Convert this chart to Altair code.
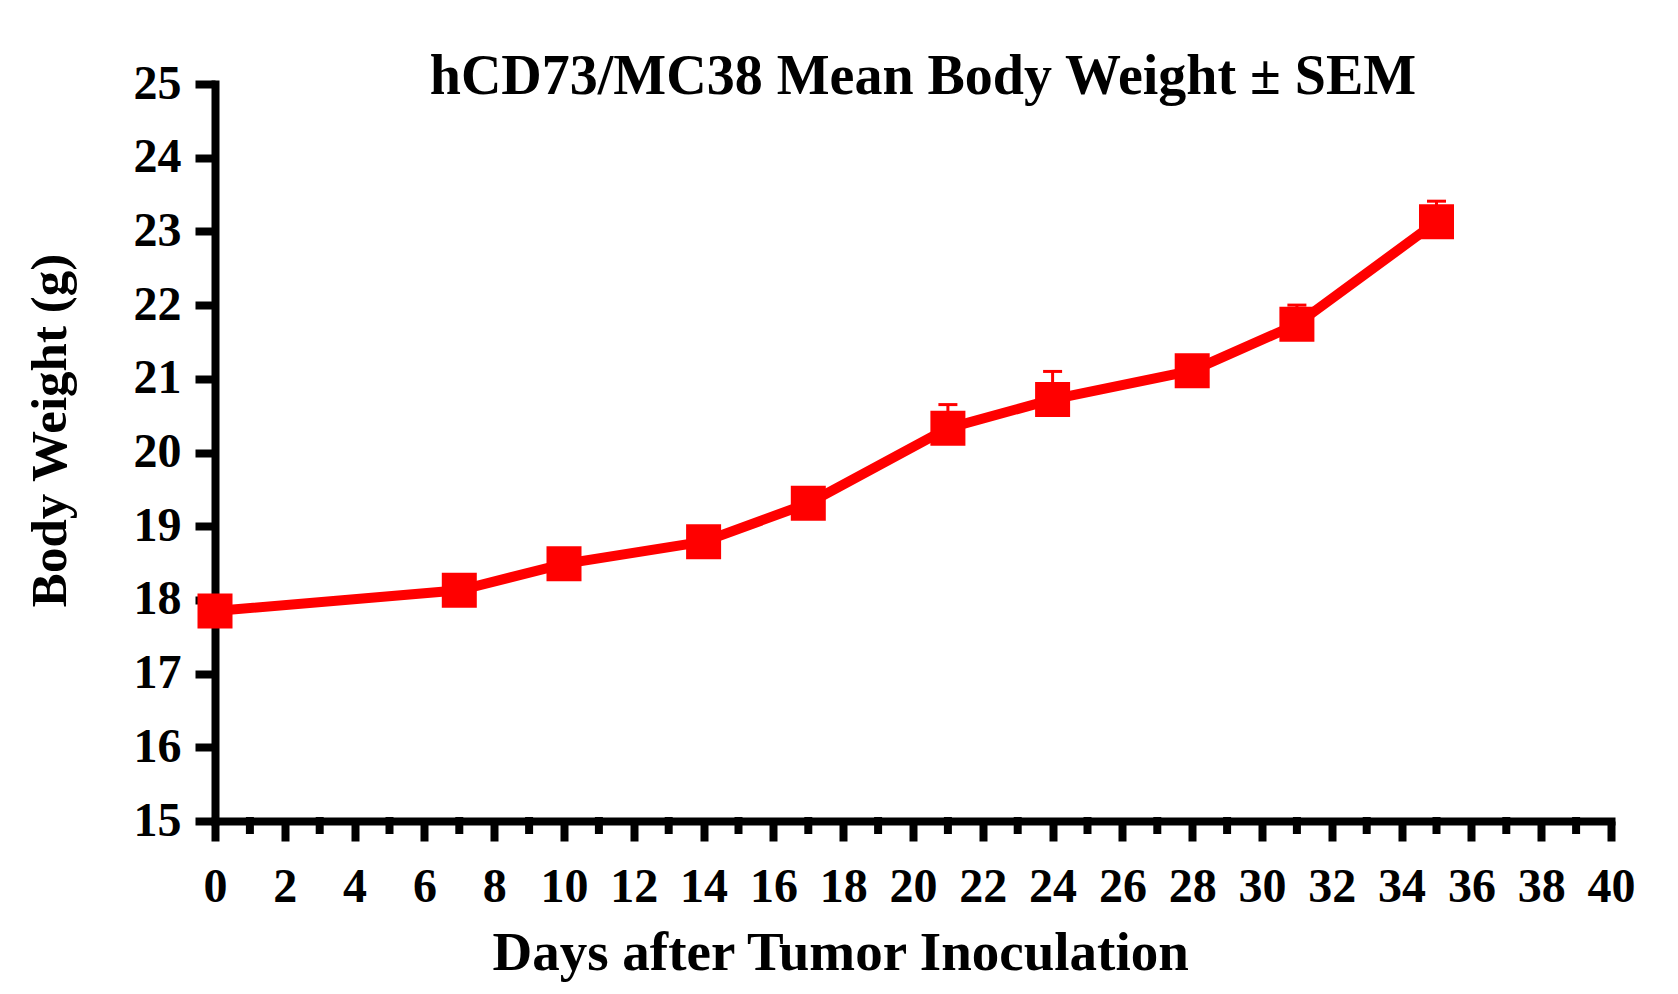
import altair as alt
import pandas as pd

# Data
days = [0, 7, 10, 14, 17, 21, 24, 28, 31, 35]
mean_weight = [17.85, 18.13, 18.49, 18.79, 19.31, 20.33, 20.72, 21.11, 21.74, 23.13]
sem = [0.12, 0.12, 0.13, 0.12, 0.15, 0.32, 0.38, 0.15, 0.26, 0.28]

x_major = [0, 2, 4, 6, 8, 10, 12, 14, 16, 18, 20, 22, 24, 26, 28, 30, 32, 34, 36, 38, 40]
x_minor = [1, 3, 5, 7, 9, 11, 13, 15, 17, 19, 21, 23, 25, 27, 29, 31, 33, 35, 37, 39]
y_ticks = [15, 16, 17, 18, 19, 20, 21, 22, 23, 24, 25]

df = pd.DataFrame({"day": days, "mean": mean_weight, "sem": sem})
df["upper"] = df["mean"] + df["sem"]
minor_df = pd.DataFrame({"day": x_minor})

FONT = "Liberation Serif"
RED = "#FF0000"

xscale = alt.Scale(domain=[0, 40], nice=False, zero=False)
yscale = alt.Scale(domain=[15, 25], nice=False, zero=False)

xaxis = alt.Axis(
    values=x_major, format="d", title="Days after Tumor Inoculation",
    titleFont=FONT, titleFontSize=55, titleFontWeight="bold", titleColor="black",
    titleAlign="left", titleBaseline="alphabetic", titleX=277, titleY=148,
    labelFont=FONT, labelFontSize=48, labelFontWeight="bold", labelColor="black",
    labelBaseline="alphabetic", labelPadding=60, labelFlush=False, labelOverlap=False,
    domainColor="black", domainWidth=8, domainCap="square",
    tickColor="black", tickWidth=8, tickSize=20, grid=False,
)
yaxis = alt.Axis(
    values=y_ticks, format="d", title="Body Weight (g)",
    titleFont=FONT, titleFontSize=51, titleFontWeight="bold", titleColor="black",
    titleAngle=270, titleAlign="center", titleBaseline="alphabetic", titleX=-150, titleY=346,
    labelFont=FONT, labelFontSize=48, labelFontWeight="bold", labelColor="black",
    labelPadding=14, labelFlush=False, labelOverlap=False,
    domainColor="black", domainWidth=8, domainCap="square",
    tickColor="black", tickWidth=8, tickSize=20, grid=False,
)

base = alt.Chart(df)

stems = base.mark_rule(color=RED, strokeWidth=3).encode(
    x=alt.X("day:Q", scale=xscale, axis=xaxis),
    y=alt.Y("mean:Q", scale=yscale, axis=yaxis),
    y2="upper:Q",
)
caps = base.mark_tick(color=RED, orient="horizontal", size=19, thickness=3, opacity=1).encode(
    x=alt.X("day:Q", scale=xscale),
    y=alt.Y("upper:Q", scale=yscale),
)
line = base.mark_line(color=RED, strokeWidth=10).encode(
    x=alt.X("day:Q", scale=xscale),
    y=alt.Y("mean:Q", scale=yscale),
)
points = base.mark_point(shape="square", filled=True, color=RED, size=1225, opacity=1).encode(
    x=alt.X("day:Q", scale=xscale),
    y=alt.Y("mean:Q", scale=yscale),
)
minor = alt.Chart(minor_df).mark_tick(
    color="black", orient="vertical", size=17, thickness=8, opacity=1, yOffset=4.5
).encode(
    x=alt.X("day:Q", scale=xscale),
    y=alt.YDatum(15),
)

chart = alt.layer(minor, stems, caps, line, points).properties(
    width=1396, height=737,
    background="white",
    title=alt.TitleParams(
        text="hCD73/MC38 Mean Body Weight \u00b1 SEM",
        font=FONT, fontSize=56, fontWeight="bold", color="black",
        anchor="middle", frame="group", baseline="alphabetic", offset=0, dx=10, dy=90,
    ),
    autosize=alt.AutoSizeParams(type="none"),
    padding={"left": 207, "top": 76, "right": 40, "bottom": 165},
).configure_view(strokeWidth=0)

chart.save("out.html", embed_options={"renderer": "svg", "actions": False})
